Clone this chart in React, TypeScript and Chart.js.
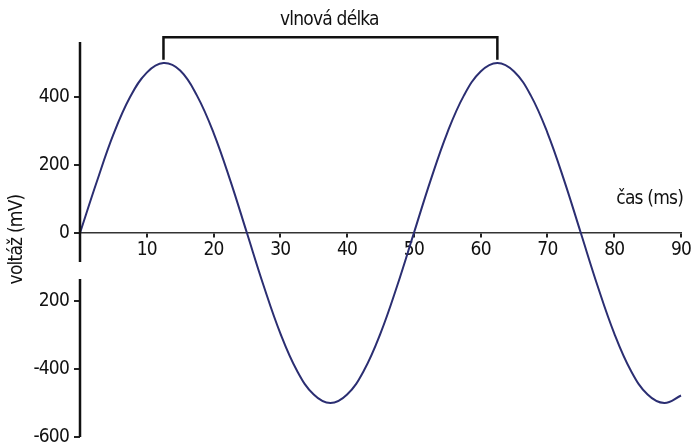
import React, { useEffect, useRef } from "react";
import { Chart, registerables } from "chart.js";

Chart.register(...registerables);

// time (ms)
const timeMs = [
  0, 2.5, 5, 7.5, 10, 12.5, 15, 17.5, 20, 22.5, 25, 27.5, 30, 32.5, 35, 37.5,
  40, 42.5, 45, 47.5, 50, 52.5, 55, 57.5, 60, 62.5, 65, 67.5, 70, 72.5, 75,
  77.5, 80, 82.5, 85, 87.5, 90,
];
// voltage (mV)
const voltage = [
  0, 150, 290, 400, 472, 500, 478, 405, 295, 155, 0, -155, -295, -405, -475,
  -500, -475, -405, -295, -155, 0, 155, 295, 405, 475, 500, 475, 405, 295, 155,
  0, -155, -295, -405, -475, -500, -478,
];

const xTicks = [10, 20, 30, 40, 50, 60, 70, 80, 90];
const yTicks = [-600, -400, -200, 0, 200, 400];
const yTickLabels = ["-600", "-400", "200", "0", "200", "400"];
const yAxisGap = [-85, -135];
const wavelengthPeaks = [12.5, 62.5];
const bracketLevels = [576, 510];

const FONT = "'Liberation Sans Narrow', 'DejaVu Sans Condensed', 'Open Sans', sans-serif";
const SPACING = "-0.8px";

const annotations = {
  id: "annotations",
  beforeDraw(chart: any) {
    (chart.ctx as any).letterSpacing = SPACING;
  },
  afterDraw(chart: any) {
    const ctx = chart.ctx;
    const xs = chart.scales.x;
    const ys = chart.scales.y;
    ctx.save();
    ctx.letterSpacing = SPACING;
    // y axis line with a gap
    const ax = xs.getPixelForValue(0);
    ctx.strokeStyle = "#111";
    ctx.lineWidth = 2.5;
    ctx.beginPath();
    ctx.moveTo(ax, ys.top);
    ctx.lineTo(ax, ys.getPixelForValue(yAxisGap[0]));
    ctx.moveTo(ax, ys.getPixelForValue(yAxisGap[1]));
    ctx.lineTo(ax, ys.bottom);
    ctx.stroke();

    // wavelength bracket
    const x1 = xs.getPixelForValue(wavelengthPeaks[0]);
    const x2 = xs.getPixelForValue(wavelengthPeaks[1]);
    const yTop = ys.getPixelForValue(bracketLevels[0]);
    const yBot = ys.getPixelForValue(bracketLevels[1]);
    ctx.lineWidth = 2.5;
    ctx.beginPath();
    ctx.moveTo(x1, yBot);
    ctx.lineTo(x1, yTop);
    ctx.lineTo(x2, yTop);
    ctx.lineTo(x2, yBot);
    ctx.stroke();

    ctx.fillStyle = "#111";
    ctx.font = `19px ${FONT}`;
    ctx.textAlign = "center";
    ctx.textBaseline = "middle";
    ctx.fillText("vlnová délka", (x1 + x2) / 2 - 1, yTop - 17);

    // x axis title
    ctx.textAlign = "right";
    ctx.fillText("čas (ms)", xs.right + 2, ys.getPixelForValue(100));
    ctx.restore();
  },
};

export default function App() {
  const ref = useRef<HTMLCanvasElement>(null);
  useEffect(() => {
    if (!ref.current) return;
    const chart = new Chart(ref.current, {
      type: "line",
      data: {
        datasets: [
          {
            data: timeMs.map((t, i) => ({ x: t, y: voltage[i] })),
            borderColor: "#2b2e72",
            borderWidth: 2,
            pointRadius: 0,
            tension: 0.4,
            fill: false,
            clip: false as any,
          },
        ],
      },
      options: {
        animation: false,
        responsive: true,
        maintainAspectRatio: false,
        layout: { padding: { left: 0, top: 42, right: 12, bottom: 8 } },
        plugins: { legend: { display: false }, tooltip: { enabled: false } },
        scales: {
          x: {
            type: "linear",
            min: 0,
            max: 90,
            position: { y: 0 } as any,
            afterBuildTicks: (s: any) => {
              s.ticks = xTicks.map((v) => ({ value: v }));
            },
            afterFit: (s: any) => {
              s.paddingLeft = 0;
              s.paddingRight = 0;
            },
            border: { display: true, color: "#333", width: 1.5 },
            grid: {
              display: true,
              drawOnChartArea: false,
              drawTicks: true,
              tickLength: 4,
              color: "#222",
              lineWidth: 2,
            },
            ticks: {
              color: "#111",
              padding: 2,
              maxRotation: 0,
              autoSkip: false,
              font: { family: FONT, size: 19 },
            },
          },
          y: {
            type: "linear",
            min: -600,
            max: 562,
            position: "left",
            afterBuildTicks: (s: any) => {
              s.ticks = yTicks.map((v) => ({ value: v }));
            },
            afterFit: (s: any) => {
              s.width = 80;
              s.paddingTop = 0;
              s.paddingBottom = 0;
            },
            border: { display: false },
            grid: {
              display: true,
              drawOnChartArea: false,
              drawTicks: true,
              tickLength: 6,
              color: "#222",
              lineWidth: 2,
            },
            ticks: {
              color: "#111",
              padding: 5,
              autoSkip: false,
              font: { family: FONT, size: 19 },
              callback: (_v: any, i: number) => yTickLabels[i],
            },
            title: {
              display: true,
              text: "voltáž (mV)",
              color: "#111",
              font: { family: FONT, size: 19 },
              padding: { top: 6, bottom: 0 },
            },
          },
        },
      },
      plugins: [annotations],
    });
    return () => chart.destroy();
  }, []);
  return (
    <div style={{ position: "absolute", left: 0, top: 0, width: 693, height: 445, background: "#fff" }}>
      <canvas ref={ref} />
    </div>
  );
}
